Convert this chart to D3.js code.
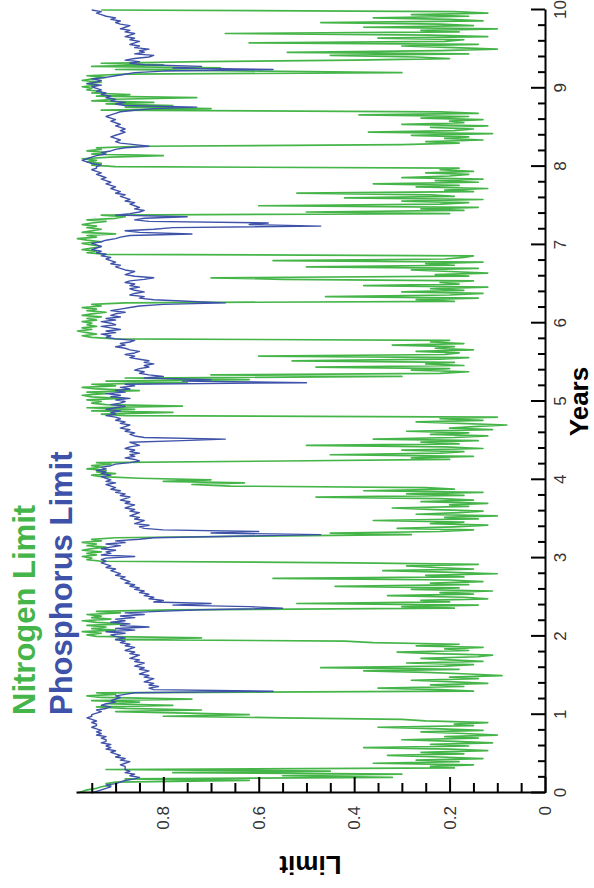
<!DOCTYPE html>
<html><head><meta charset="utf-8">
<script src="https://cdn.jsdelivr.net/npm/d3@7"></script>
<style>body{margin:0;background:#fff}svg{display:block}</style>
</head><body><svg id="c" width="594" height="888"></svg>
<script>
// time grid: value i is at year yearStart + i*yearStep
const yearStart = 0, yearStep = 0.02;

const nitrogen = [
// year 0
.98,.97,.96,.94,.93,.91,.92,.90,.62,.88, .32,.55,.30,.78,.45,.92,.19,.24,.15,.36, .18,.27,.13,.22,.33,.17,.26,.12,.20,.38, .16,.24,.11,.19,.30,.14,.21,.10,.17,.26, .13,.22,.35,.15,.19,.12,.25,.30,.55,.80,
// year 1
.62,.75,.90,.72,.88,.94,.78,.92,.85,.95, .74,.93,.96,.90,.94,.15,.22,.35,.17,.24, .12,.19,.28,.14,.20,.09,.16,.25,.38,.18, .47,.21,.15,.29,.13,.20,.26,.14,.11,.23, .31,.16,.21,.13,.27,.18,.36,.42,.90,.72,
// year 2
.94,.96,.93,.97,.90,.95,.92,.96,.88,.94, .97,.91,.95,.93,.96,.89,.94,.78,.19,.30, .14,.52,.20,.26,.12,.17,.33,.15,.22,.11, .28,.18,.44,.16,.24,.13,.20,.57,.17,.25, .10,.21,.34,.15,.23,.29,.14,.40,.93,.96,
// year 3
.95,.97,.94,.96,.93,.97,.95,.92,.96,.94, .97,.93,.95,.90,.60,.28,.45,.22,.15,.31, .19,.12,.24,.17,.36,.14,.21,.10,.27,.18, .13,.23,.32,.16,.20,.12,.26,.15,.22,.48, .17,.29,.13,.38,.19,.25,.66,.74,.63,.80,
// year 4
.70,.85,.93,.95,.90,.94,.92,.96,.93,.95, .91,.94,.55,.20,.28,.15,.45,.22,.17,.30, .13,.21,.50,.18,.26,.14,.36,.19,.12,.24, .16,.29,.11,.20,.15,.08,.18,.27,.13,.22, .10,.88,.93,.78,.95,.86,.96,.76,.92,.95,
// year 5
.93,.96,.89,.95,.97,.92,.96,.85,.94,.97, .90,.95,.75,.92,.62,.88,.30,.70,.22,.16, .28,.20,.48,.17,.25,.19,.53,.22,.16,.60, .21,.18,.27,.15,.23,.19,.32,.17,.24,.20, .90,.95,.97,.94,.96,.98,.95,.97,.94,.96,
// year 6
.95,.97,.94,.96,.93,.97,.95,.92,.96,.94, .97,.93,.95,.88,.19,.27,.14,.46,.20,.13, .30,.17,.24,.12,.38,.18,.22,.15,.55,.70, .16,.23,.12,.20,.28,.14,.50,.19,.25,.13, .57,.21,.17,.15,.92,.96,.94,.97,.95,.93,
// year 7
.95,.97,.93,.96,.98,.94,.96,.90,.97,.95, .93,.96,.94,.97,.95,.92,.96,.90,.88,.93, .20,.50,.17,.26,.14,.60,.22,.16,.30,.13, .42,.19,.24,.52,.15,.21,.12,.27,.18,.36, .14,.23,.13,.30,.20,.16,.25,.15,.22,.18,
// year 8
.90,.95,.93,.96,.94,.97,.91,.80,.95,.92, .96,.93,.94,.85,.30,.18,.25,.13,.21,.16, .28,.11,.37,.19,.15,.24,.12,.30,.17,.20, .13,.26,.16,.39,.14,.22,.93,.70,.88,.78, .92,.82,.95,.90,.73,.94,.87,.95,.93,.96,
// year 9 .. 10
.95,.97,.94,.96,.93,.97,.95,.92,.96,.88, .30,.60,.90,.68,.95,.80,.93,.72,.40,.20, .27,.45,.16,.54,.22,.10,.19,.30,.14,.62, .21,.17,.35,.12,.24,.67,.18,.26,.10,.38, .15,.22,.47,.13,.20,.36,.16,.28,.12,.19, .93
];

const phosphorus = [
// year 0
.95,.94,.93,.92,.91,.92,.90,.89,.88,.86, .85,.87,.86,.88,.87,.88,.88,.88,.89,.88, .87,.89,.88,.90,.89,.90,.91,.90,.92,.91, .92,.91,.93,.92,.92,.93,.92,.94,.93,.94, .93,.94,.95,.94,.94,.95,.94,.95,.96,.95,
// year 1
.95,.94,.93,.94,.92,.91,.93,.92,.90,.91, .90,.89,.90,.88,.86,.57,.82,.83,.81,.83, .82,.84,.83,.82,.84,.83,.85,.84,.83,.85, .84,.86,.85,.84,.86,.85,.87,.86,.85,.87, .86,.88,.87,.86,.88,.87,.89,.88,.90,.88,
// year 2
.90,.91,.88,.92,.86,.90,.83,.89,.87,.91, .88,.90,.86,.89,.84,.88,.81,.72,.55,.62, .78,.70,.82,.80,.83,.82,.84,.83,.85,.84, .86,.85,.87,.86,.88,.87,.88,.89,.88,.90, .89,.90,.91,.90,.92,.91,.92,.93,.92,.93,
// year 3
.92,.86,.93,.91,.92,.90,.93,.91,.89,.92, .88,.90,.85,.82,.65,.47,.70,.60,.80,.84, .85,.83,.86,.85,.84,.86,.85,.87,.86,.85, .87,.86,.88,.87,.86,.88,.87,.89,.88,.87, .89,.88,.90,.89,.91,.90,.91,.92,.90,.92,
// year 4
.91,.92,.93,.91,.93,.92,.94,.92,.93,.91, .90,.87,.85,.86,.88,.86,.87,.85,.87,.86, .88,.87,.85,.86,.87,.76,.67,.84,.86,.87, .86,.88,.87,.89,.88,.87,.89,.88,.90,.89, .90,.92,.90,.91,.89,.92,.90,.88,.91,.89,
// year 5
.88,.90,.87,.91,.89,.92,.88,.90,.87,.89, .86,.88,.50,.76,.70,.84,.80,.83,.85,.84, .86,.85,.83,.84,.82,.84,.83,.85,.87,.86, .88,.86,.85,.87,.88,.90,.88,.89,.87,.86, .90,.92,.91,.93,.90,.92,.89,.91,.93,.90,
// year 6
.91,.93,.90,.92,.89,.91,.90,.88,.91,.89, .87,.85,.80,.67,.75,.82,.85,.84,.87,.86, .84,.86,.87,.85,.87,.86,.88,.87,.84,.82, .86,.88,.87,.86,.88,.89,.90,.89,.91,.90, .91,.92,.91,.93,.92,.94,.93,.95,.94,.93,
// year 7
.94,.95,.93,.92,.90,.89,.87,.74,.85,.88, .82,.78,.47,.62,.58,.83,.86,.84,.75,.90, .87,.85,.84,.86,.85,.86,.87,.86,.88,.87, .88,.89,.88,.90,.89,.90,.91,.90,.91,.92, .91,.92,.93,.92,.93,.94,.93,.94,.95,.94,
// year 8
.94,.93,.95,.96,.97,.96,.95,.94,.92,.93, .91,.90,.88,.83,.86,.89,.90,.89,.90,.91, .90,.89,.88,.89,.88,.89,.90,.89,.90,.91, .90,.91,.92,.91,.90,.89,.86,.82,.73,.88, .90,.88,.91,.90,.92,.91,.93,.92,.94,.93,
// year 9 .. 10
.94,.95,.93,.96,.94,.93,.95,.92,.90,.88, .86,.80,.57,.78,.72,.84,.87,.85,.88,.86, .83,.82,.86,.84,.85,.83,.86,.85,.87,.86, .85,.87,.86,.88,.87,.86,.88,.87,.89,.88, .87,.89,.90,.89,.91,.90,.92,.93,.94,.93, .95
];

const yearTicks = [0,1,2,3,4,5,6,7,8,9,10];
const limitTicks = [0,0.2,0.4,0.6,0.8];
const limitMinorTicks = [0.05,0.1,0.15,0.25,0.3,0.35,0.45,0.5,0.55,0.65,0.7,0.75,0.85,0.9,0.95];
const seriesNames = ["Nitrogen Limit","Phosphorus Limit"];
const seriesColors = ["#46b549","#3e52a9"];
const titleX = "Years", titleY = "Limit";

const FONT = "'Liberation Sans', Arial, sans-serif";
const W = 783, H = 469;
const svg = d3.select("#c");
// chart is drawn in its natural orientation, then turned a quarter turn counter-clockwise
const g = svg.append("g").attr("transform","translate(76,793) rotate(-90)").attr("font-family",FONT);

const x = d3.scaleLinear().domain([0,10]).range([0,W]);
const y = d3.scaleLinear().domain([0,0.983]).range([H,0]);

const yearMinor = d3.range(0,50).map(i=>i/5).filter(v=>v%1!==0);

// series
const line = d3.line().x((d,i)=>x(yearStart+i*yearStep)).y(d=>y(d));
[nitrogen, phosphorus].forEach((s,k)=>{
  g.append("path").datum(s).attr("d",line).attr("fill","none")
   .attr("stroke",seriesColors[k]).attr("stroke-width",k===0?1.7:1.4).attr("stroke-linejoin","round");
});

// axes
function styleAxis(sel){
  sel.attr("font-family",FONT);
  sel.selectAll("path.domain").attr("stroke","#000").attr("stroke-width",2);
  sel.selectAll(".tick line").attr("stroke","#000").attr("stroke-width",2);
  sel.selectAll(".tick text").attr("font-size",17).attr("fill","#333");
}
const gxMinor = g.append("g").attr("transform",`translate(0,${H})`)
  .call(d3.axisBottom(x).tickValues(yearMinor).tickSizeInner(-7).tickSizeOuter(0).tickFormat(""));
gxMinor.select("path.domain").remove(); styleAxis(gxMinor);
const gx = g.append("g").attr("transform",`translate(0,${H})`)
  .call(d3.axisBottom(x).tickValues(yearTicks).tickSizeInner(-14).tickSizeOuter(0).tickPadding(9).tickFormat(d3.format("d")));
styleAxis(gx);

const gyMinor = g.append("g")
  .call(d3.axisLeft(y).tickValues(limitMinorTicks).tickSizeInner(-10).tickSizeOuter(0).tickFormat(""));
gyMinor.select("path.domain").remove(); styleAxis(gyMinor);
const gy = g.append("g")
  .call(d3.axisLeft(y).tickValues(limitTicks).tickSizeInner(-16).tickSizeOuter(0).tickPadding(13)
    .tickFormat(d=>d===0?"0":d3.format(".1f")(d)));
styleAxis(gy);

// titles
g.append("text").attr("x",W/2).attr("y",H+43).attr("text-anchor","middle")
  .attr("font-weight","bold").attr("font-size",26).attr("fill","#000").text(titleX);
g.append("text").attr("transform",`translate(-63,${H/2}) rotate(-90)`).attr("text-anchor","middle")
  .attr("font-weight","bold").attr("font-size",26).attr("fill","#000").text(titleY);

// legend
seriesNames.forEach((n,k)=>{
  g.append("text").attr("x",78).attr("y",-41+37*k).attr("font-size",31).attr("font-weight","bold")
   .attr("fill",seriesColors[k]).text(n);
});
</script></body></html>
